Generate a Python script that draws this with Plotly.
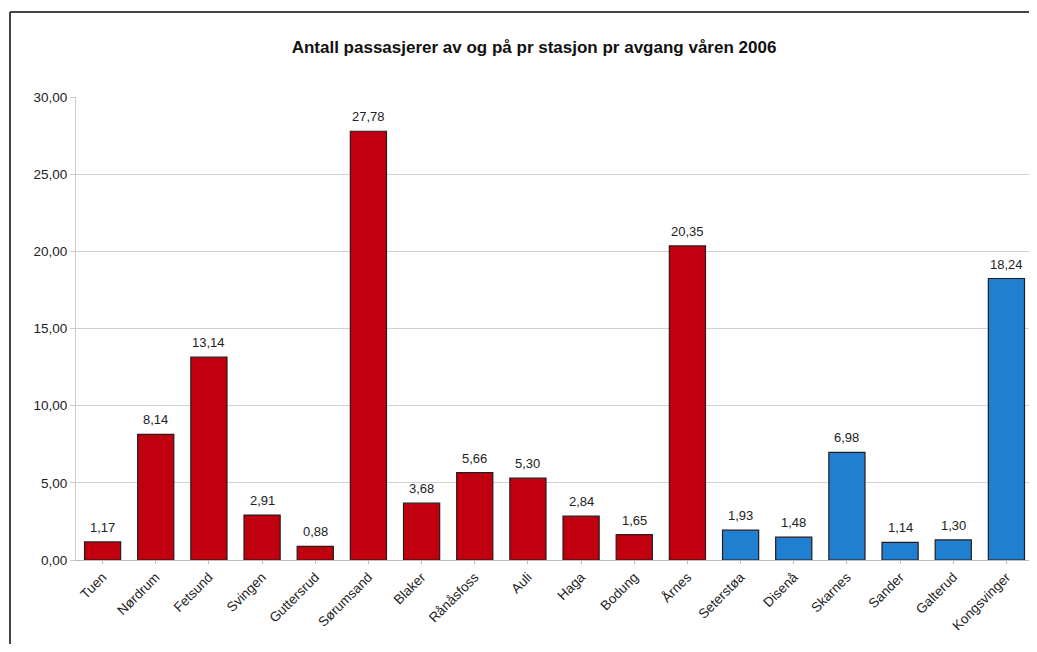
import plotly.graph_objects as go

stations = ["Tuen", "Nørdrum", "Fetsund", "Svingen", "Guttersrud", "Sørumsand", "Blaker",
            "Rånåsfoss", "Auli", "Haga", "Bodung", "Årnes", "Seterstøa", "Disenå",
            "Skarnes", "Sander", "Galterud", "Kongsvinger"]
values = [1.17, 8.14, 13.14, 2.91, 0.88, 27.78, 3.68, 5.66, 5.30, 2.84, 1.65, 20.35,
          1.93, 1.48, 6.98, 1.14, 1.30, 18.24]
n_red = 12
colors = ["#C0000F"] * n_red + ["#1F80D2"] * (len(stations) - n_red)
labels = [f"{v:.2f}".replace(".", ",") for v in values]
y_ticks = [0, 5, 10, 15, 20, 25, 30]
y_ticklabels = [f"{t:.2f}".replace(".", ",") for t in y_ticks]

# page has an 8px body margin, so figure coordinates = page coordinates - 8
OFF = 8
W, H = 1037 - OFF, 652 - 2 * OFF
ml, mr, mt = 76 - OFF, 4, 97 - OFF
mb = H - (560 - OFF)
pw = W - ml - mr
ph = H - mt - mb

fig = go.Figure(go.Bar(
    x=stations, y=values, marker=dict(color=colors, line=dict(color="#2a1a1a", width=1.2)),
))

for s, v, t in zip(stations, values, labels):
    fig.add_annotation(x=s, y=v, text=t, showarrow=False, yanchor="bottom", yshift=5,
                       font=dict(size=13, color="#222", family="Liberation Sans"))

fx0, fx1 = (10 - 76) / pw, (1060 - 76) / pw
fy0, fy1 = -(700 - 560) / ph, (560 - 12) / ph
frame = dict(color="#444", width=2)

fig.update_layout(
    width=W, height=H,
    margin=dict(l=ml, r=mr, t=mt, b=mb),
    paper_bgcolor="white", plot_bgcolor="white",
    showlegend=False,
    bargap=0.32,
    title=dict(text="<b>Antall passasjerer av og på pr stasjon pr avgang våren 2006</b>",
               x=(534 - OFF) / W, xanchor="center", y=1 - (47 - OFF) / H, yanchor="middle",
               font=dict(size=17, color="#111", family="Liberation Sans")),
    font=dict(family="Liberation Sans", size=13, color="#222"),
    xaxis=dict(tickangle=-45, showgrid=False, showline=True, linecolor="#bbb",
               ticks="outside", ticklen=3, tickcolor="#bbb", tickfont=dict(size=13.5)),
    yaxis=dict(range=[0, 30], tickvals=y_ticks, ticktext=y_ticklabels, showgrid=True,
               gridcolor="#d2d2d2", gridwidth=1, showline=True, linecolor="#ccc",
               ticks="outside", ticklen=5, tickcolor="#ccc", zeroline=False,
               tickfont=dict(size=13.5)),
    shapes=[dict(type="line", xref="paper", yref="paper", x0=fx0, x1=fx1, y0=fy1, y1=fy1,
                 line=frame, layer="below"),
            dict(type="line", xref="paper", yref="paper", x0=fx0, x1=fx0, y0=fy0, y1=fy1,
                 line=frame, layer="below")],
)

fig.write_html("out.html")
